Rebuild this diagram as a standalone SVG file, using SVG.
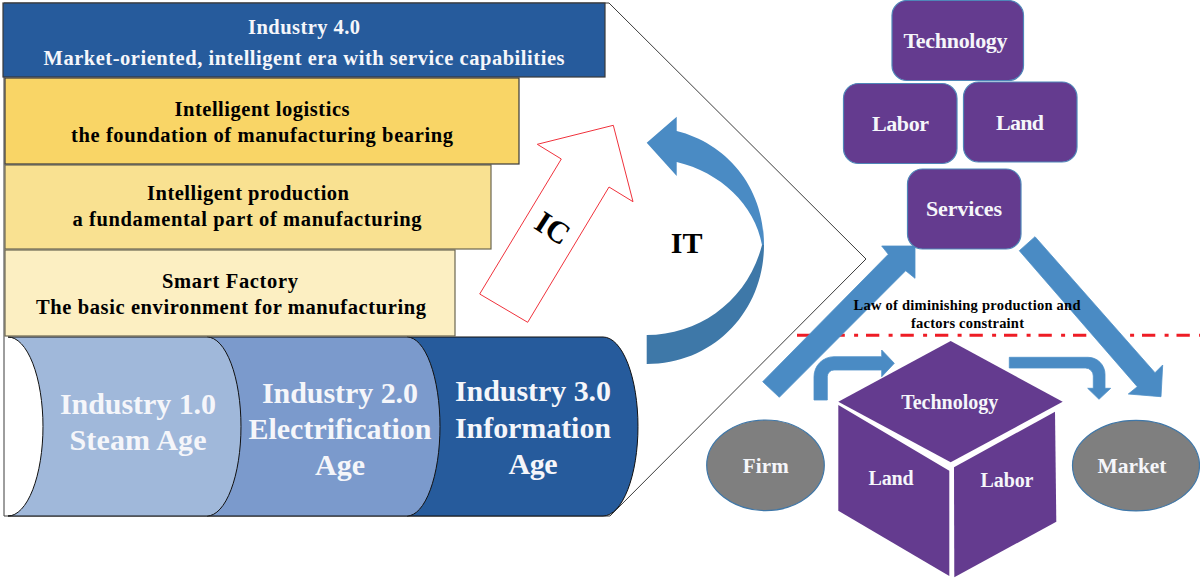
<svg xmlns="http://www.w3.org/2000/svg" width="1200" height="578" viewBox="0 0 1200 578">
<style>
text{font-family:"Liberation Serif","Times New Roman",serif;font-weight:bold;text-anchor:middle}
.w{fill:#f5f6fa}
.k{fill:#000}
.box{stroke:#3a3a3a;stroke-width:1.2}
.soft{stroke:#6b6650;stroke-width:1.2}
.pur{fill:#643b8f;stroke:#4f86b8;stroke-width:1.2}
.cube{fill:#643b8f}
.ell{fill:#7f7f7f;stroke:#3f77a8;stroke-width:1.2}
.arr{fill:#4a8bc4;stroke:#4f90c8;stroke-width:.8}
.cyl{stroke:#111;stroke-width:1}
</style>
<g id="frame"><path d="M4 3H609L866 259L610 516H4Z" fill="#fff" stroke="#3c3c3c" stroke-width="1"/></g>
<g id="cylinder-3"><path class="cyl" d="M407 337H603A35 89.5 0 0 1 603 516H407Z" fill="#265b9c"/><text class="w" x="533" y="401" font-size="30" textLength="156">Industry 3.0</text><text class="w" x="533" y="437.5" font-size="30" textLength="156">Information</text><text class="w" x="533" y="473.5" font-size="30" textLength="49">Age</text></g>
<g id="cylinder-2"><path class="cyl" d="M207 337H407A33 89.5 0 0 1 407 516H207Z" fill="#7b9acc"/><text class="w" x="340" y="402.5" font-size="30" textLength="156">Industry 2.0</text><text class="w" x="340" y="438.5" font-size="30" textLength="183">Electrification</text><text class="w" x="340" y="475" font-size="30" textLength="50">Age</text></g>
<g id="cylinder-1"><path class="cyl" d="M8 337H207A34 89.5 0 0 1 207 516H8A35 89.5 0 0 0 8 337Z" fill="#a0b8da"/><text class="w" x="138" y="414" font-size="30" textLength="156">Industry 1.0</text><text class="w" x="138" y="450" font-size="30" textLength="137">Steam Age</text></g>
<g id="smart-factory"><rect class="soft" x="5" y="250" width="450" height="86" fill="#fcefc2"/><text class="k" x="230" y="288" font-size="20.5" textLength="136">Smart Factory</text><text class="k" x="231" y="314" font-size="20.5" textLength="390">The basic environment for manufacturing</text></g>
<g id="intelligent-production"><rect class="soft" x="5" y="165" width="486" height="84" fill="#f9e191"/><text class="k" x="248" y="200" font-size="20.5" textLength="202">Intelligent production</text><text class="k" x="247" y="226" font-size="20.5" textLength="349">a fundamental part of manufacturing</text></g>
<g id="intelligent-logistics"><rect class="box" x="5" y="78" width="514" height="86" fill="#f9d566"/><text class="k" x="262" y="115.5" font-size="20.5" textLength="175">Intelligent logistics</text><text class="k" x="262" y="142" font-size="20.5" textLength="382">the foundation of manufacturing bearing</text></g>
<g id="industry-4"><rect class="box" x="3" y="3" width="602" height="74" fill="#265b9c"/><text class="w" x="304" y="33.5" font-size="20.5" textLength="112">Industry 4.0</text><text class="w" x="304" y="65" font-size="20.5" textLength="521">Market-oriented, intelligent era with service capabilities</text></g>
<g id="ic"><path d="M613.3 125.3L633 201.7L609 187L527.7 322.3L479.7 294L561.3 159L537.3 144.3Z" fill="#fff" stroke="#f0323c" stroke-width="1"/><text class="k" x="552.5" y="238.5" font-size="31" transform="rotate(33 552.5 228.5)">IC</text></g>
<g id="it"><path d="M646.7 142.7L676.7 116.7V131C725 143 764 185 764 245L762 245C755 205 720 172 676.7 162V176Z" fill="#4a8bc4"/><path d="M764 245C764 310 715 364 646.7 364V335C700 335 748 300 762 245Z" fill="#3e78a8"/><text class="k" x="686.7" y="253" font-size="30">IT</text></g>
<g id="connectors">
<path d="M797 335.3H1200" fill="none" stroke="#ee1c25" stroke-width="3" stroke-dasharray="13.3 9.3 4 7.9"/>
<path class="arr" d="M762.7 381.7L888.3 254.3L881.7 246H915V278.3L905.7 270.7L779.3 397.3Z"/>
<path class="arr" d="M1035 236.7L1019.3 250.7L1137.3 386.7L1128.3 394L1161 396.7L1162.7 365L1155 372.7Z"/>
<path class="arr" d="M814 400V376.7A20 20 0 0 1 834 356.7H881.7V350L894.3 363.3L881.7 376.7V370H834A6.7 6.7 0 0 0 827.3 376.7V400Z"/>
<path class="arr" d="M1009.3 357.3H1088A17 17 0 0 1 1105 374.3V388.3H1110.7L1099 399.3L1087.7 388.3H1093.3V376A8 8 0 0 0 1085.3 368H1009.3Z"/>
</g>
<g id="technology-box"><rect class="pur" x="892" y="0.5" width="131.5" height="80" rx="15"/><text class="w" x="955.5" y="47.5" font-size="22" textLength="104">Technology</text></g>
<g id="labor-box"><rect class="pur" x="843.5" y="83.5" width="113.5" height="80" rx="15"/><text class="w" x="900.5" y="130.5" font-size="22" textLength="57">Labor</text></g>
<g id="land-box"><rect class="pur" x="963.5" y="82" width="113.5" height="80" rx="15"/><text class="w" x="1020" y="129.5" font-size="22" textLength="48">Land</text></g>
<g id="services-box"><rect class="pur" x="907.5" y="169" width="113.5" height="80" rx="15"/><text class="w" x="964" y="216" font-size="22" textLength="76">Services</text></g>
<g id="cube"><path class="cube" d="M950.7 341L1062.7 401.7L950.7 462.3L838.3 401.7Z"/><path class="cube" d="M838.3 405L949.3 470.7V576L838.3 510.7Z"/><path class="cube" d="M954 467.3L1055 411.7L1056.3 521.7L954.3 577.3Z"/><text class="w" x="949.7" y="408.5" font-size="20" textLength="97">Technology</text><text class="w" x="891" y="484.5" font-size="20" textLength="45">Land</text><text class="w" x="1007" y="486.5" font-size="20" textLength="53">Labor</text></g>
<g id="firm"><ellipse class="ell" cx="765.5" cy="465.3" rx="58.8" ry="45.3"/><text class="w" x="765.7" y="472.5" font-size="21" textLength="46">Firm</text></g>
<g id="market"><ellipse class="ell" cx="1136" cy="465.6" rx="63.5" ry="45.3"/><text class="w" x="1132" y="472.5" font-size="21.5" textLength="69">Market</text></g>
<g id="constraint-label"><text class="k" x="967" y="310" font-size="14.5" textLength="227">Law of diminishing production and</text><text class="k" x="967.5" y="327.5" font-size="14.5" textLength="113">factors constraint</text></g>
</svg>
